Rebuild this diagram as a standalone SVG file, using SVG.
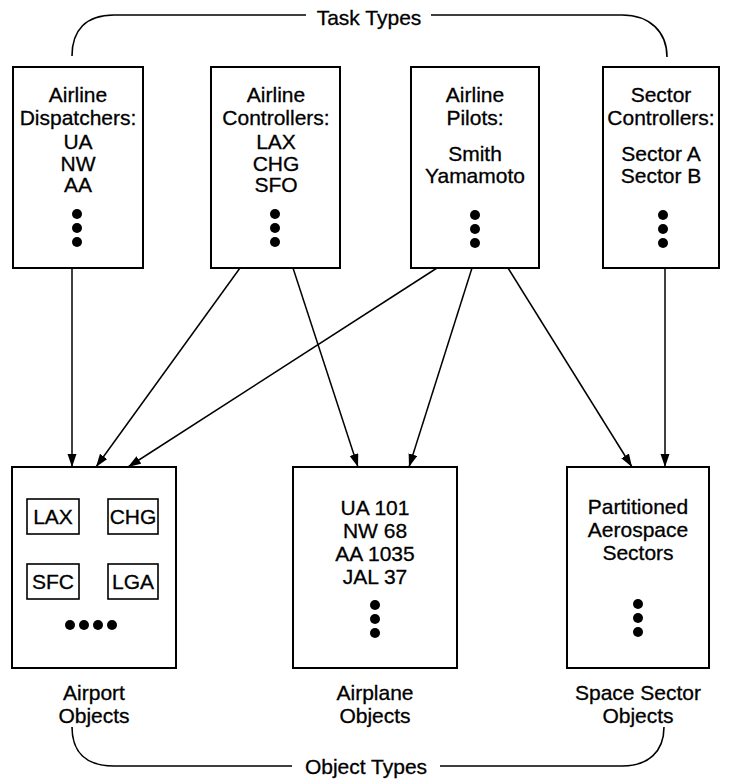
<svg xmlns="http://www.w3.org/2000/svg" width="732" height="781" viewBox="0 0 732 781">
  <style>
    .box { fill: #fff; stroke: #000; stroke-width: 2; }
    .small { fill: #fff; stroke: #000; stroke-width: 1.6; }
    .t { font-family: "Liberation Sans", Arial, Helvetica, sans-serif; font-size: 21px; fill: #000; stroke: #000; stroke-width: 0.3; text-anchor: middle; }
    .edge { fill: none; stroke: #000; stroke-width: 1.5; }
    .brace { fill: none; stroke: #000; stroke-width: 1.6; }
    .dot { fill: #000; }
  </style>
  <defs>
    <marker id="arrow" markerUnits="userSpaceOnUse" markerWidth="14" markerHeight="10" refX="13" refY="4.5" orient="auto">
      <path d="M0,0 L13,4.5 L0,9 z" fill="#000"/>
    </marker>
  </defs>

  <rect width="732" height="781" fill="#fff"/>

  <!-- group brackets with their captions -->
  <g id="task-types">
    <path class="brace" d="M72,56 C72,30 86,15 114,15 L306,15"/>
    <text class="t" x="369" y="25">Task Types</text>
    <path class="brace" d="M431,15 L622,15 C650,15 667,32 667,57"/>
  </g>
  <g id="object-types">
    <path class="brace" d="M72,727 C72,752 86,766 114,766 L292,766"/>
    <text class="t" x="366" y="774">Object Types</text>
    <path class="brace" d="M440,766 L622,766 C648,766 664,752 664,727"/>
  </g>

  <!-- connectors -->
  <g id="connectors">
    <line class="edge" x1="72" y1="268" x2="72" y2="467" marker-end="url(#arrow)"/>
    <line class="edge" x1="240" y1="268" x2="96" y2="467" marker-end="url(#arrow)"/>
    <line class="edge" x1="293" y1="268" x2="358" y2="467" marker-end="url(#arrow)"/>
    <line class="edge" x1="437" y1="268" x2="128" y2="467" marker-end="url(#arrow)"/>
    <line class="edge" x1="472" y1="268" x2="409" y2="467" marker-end="url(#arrow)"/>
    <line class="edge" x1="508" y1="268" x2="632" y2="467" marker-end="url(#arrow)"/>
    <line class="edge" x1="665" y1="268" x2="665" y2="467" marker-end="url(#arrow)"/>
  </g>

  <!-- task type nodes -->
  <g id="airline-dispatchers">
    <rect class="box" x="13" y="67" width="130" height="201"/>
    <text class="t" x="78" y="102">Airline</text>
    <text class="t" x="78" y="125">Dispatchers:</text>
    <text class="t" x="78" y="149">UA</text>
    <text class="t" x="78" y="171">NW</text>
    <text class="t" x="78" y="192">AA</text>
    <circle class="dot" cx="77" cy="214" r="5"/>
    <circle class="dot" cx="77" cy="228" r="5"/>
    <circle class="dot" cx="77" cy="242" r="5"/>
  </g>
  <g id="airline-controllers">
    <rect class="box" x="211" y="67" width="129" height="201"/>
    <text class="t" x="276" y="102">Airline</text>
    <text class="t" x="276" y="125">Controllers:</text>
    <text class="t" x="276" y="149">LAX</text>
    <text class="t" x="276" y="171">CHG</text>
    <text class="t" x="276" y="192">SFO</text>
    <circle class="dot" cx="275" cy="214" r="5"/>
    <circle class="dot" cx="275" cy="228" r="5"/>
    <circle class="dot" cx="275" cy="242" r="5"/>
  </g>
  <g id="airline-pilots">
    <rect class="box" x="411" y="67" width="128" height="201"/>
    <text class="t" x="475" y="102">Airline</text>
    <text class="t" x="475" y="125">Pilots:</text>
    <text class="t" x="475" y="161">Smith</text>
    <text class="t" x="475" y="183">Yamamoto</text>
    <circle class="dot" cx="475" cy="215" r="5"/>
    <circle class="dot" cx="475" cy="229" r="5"/>
    <circle class="dot" cx="475" cy="243" r="5"/>
  </g>
  <g id="sector-controllers">
    <rect class="box" x="603" y="67" width="116" height="201"/>
    <text class="t" x="661" y="102">Sector</text>
    <text class="t" x="661" y="125">Controllers:</text>
    <text class="t" x="661" y="161">Sector A</text>
    <text class="t" x="661" y="183">Sector B</text>
    <circle class="dot" cx="663" cy="215" r="5"/>
    <circle class="dot" cx="663" cy="229" r="5"/>
    <circle class="dot" cx="663" cy="243" r="5"/>
  </g>

  <!-- object type nodes -->
  <g id="airport-objects">
    <rect class="box" x="12" y="467" width="164" height="201"/>
    <rect class="small" x="27" y="499" width="52" height="35"/>
    <text class="t" x="53" y="524">LAX</text>
    <rect class="small" x="108" y="499" width="50" height="35"/>
    <text class="t" x="133" y="524">CHG</text>
    <rect class="small" x="27" y="564" width="52" height="35"/>
    <text class="t" x="53" y="589">SFC</text>
    <rect class="small" x="108" y="564" width="50" height="35"/>
    <text class="t" x="133" y="589">LGA</text>
    <circle class="dot" cx="70" cy="625" r="5"/>
    <circle class="dot" cx="84" cy="625" r="5"/>
    <circle class="dot" cx="98" cy="625" r="5"/>
    <circle class="dot" cx="112" cy="625" r="5"/>
    <text class="t" x="94" y="700">Airport</text>
    <text class="t" x="94" y="723">Objects</text>
  </g>
  <g id="airplane-objects">
    <rect class="box" x="293" y="467" width="164" height="201"/>
    <text class="t" x="375" y="515">UA 101</text>
    <text class="t" x="375" y="538">NW 68</text>
    <text class="t" x="375" y="561">AA 1035</text>
    <text class="t" x="375" y="584">JAL 37</text>
    <circle class="dot" cx="375" cy="605" r="5"/>
    <circle class="dot" cx="375" cy="619" r="5"/>
    <circle class="dot" cx="375" cy="633" r="5"/>
    <text class="t" x="375" y="700">Airplane</text>
    <text class="t" x="375" y="723">Objects</text>
  </g>
  <g id="space-sector-objects">
    <rect class="box" x="567" y="467" width="142" height="201"/>
    <text class="t" x="638" y="514">Partitioned</text>
    <text class="t" x="638" y="537">Aerospace</text>
    <text class="t" x="638" y="560">Sectors</text>
    <circle class="dot" cx="638" cy="604" r="5"/>
    <circle class="dot" cx="638" cy="618" r="5"/>
    <circle class="dot" cx="638" cy="632" r="5"/>
    <text class="t" x="638" y="700">Space Sector</text>
    <text class="t" x="638" y="723">Objects</text>
  </g>
</svg>
